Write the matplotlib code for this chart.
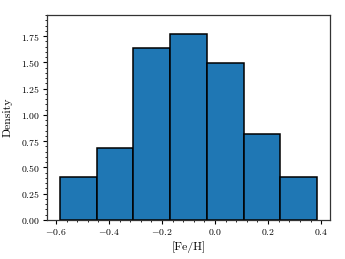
import matplotlib
matplotlib.use("Agg")
import matplotlib.pyplot as plt
import numpy as np
from matplotlib.ticker import MultipleLocator

plt.rcParams["font.family"] = "serif"
plt.rcParams["font.serif"] = ["cmr10"]
plt.rcParams["mathtext.fontset"] = "cm"
plt.rcParams["axes.formatter.use_mathtext"] = True

# histogram of [Fe/H]: bin edges and counts per bin
bin_edges = np.linspace(-0.585, 0.385, 8)
counts = [3, 5, 12, 13, 11, 6, 3]

fig = plt.figure(figsize=(3.45, 2.59), dpi=100)
ax = fig.add_axes([0.136, 0.1506, 0.821, 0.7914])
ax.hist(bin_edges[:-1], bins=bin_edges, weights=counts, density=True,
        color="#1f77b4", edgecolor="black", linewidth=1.1)

ax.set_xlim(-0.634, 0.434)
ax.set_ylim(0, 1.95)
ax.xaxis.set_major_locator(MultipleLocator(0.2))
ax.xaxis.set_minor_locator(MultipleLocator(0.04))
ax.yaxis.set_major_locator(MultipleLocator(0.25))
ax.yaxis.set_minor_locator(MultipleLocator(0.05))
ax.tick_params(which="major", length=3, width=0.8, labelsize=7, pad=2)
ax.tick_params(which="minor", length=1.6, width=0.6)
for s in ax.spines.values():
    s.set_linewidth(0.9)
    s.set_color("#333333")

ax.set_xlabel("[Fe/H]", fontsize=8.5, labelpad=3)
ax.set_ylabel("Density", fontsize=8.5, labelpad=6)

fig.savefig("out.png", dpi=100)
